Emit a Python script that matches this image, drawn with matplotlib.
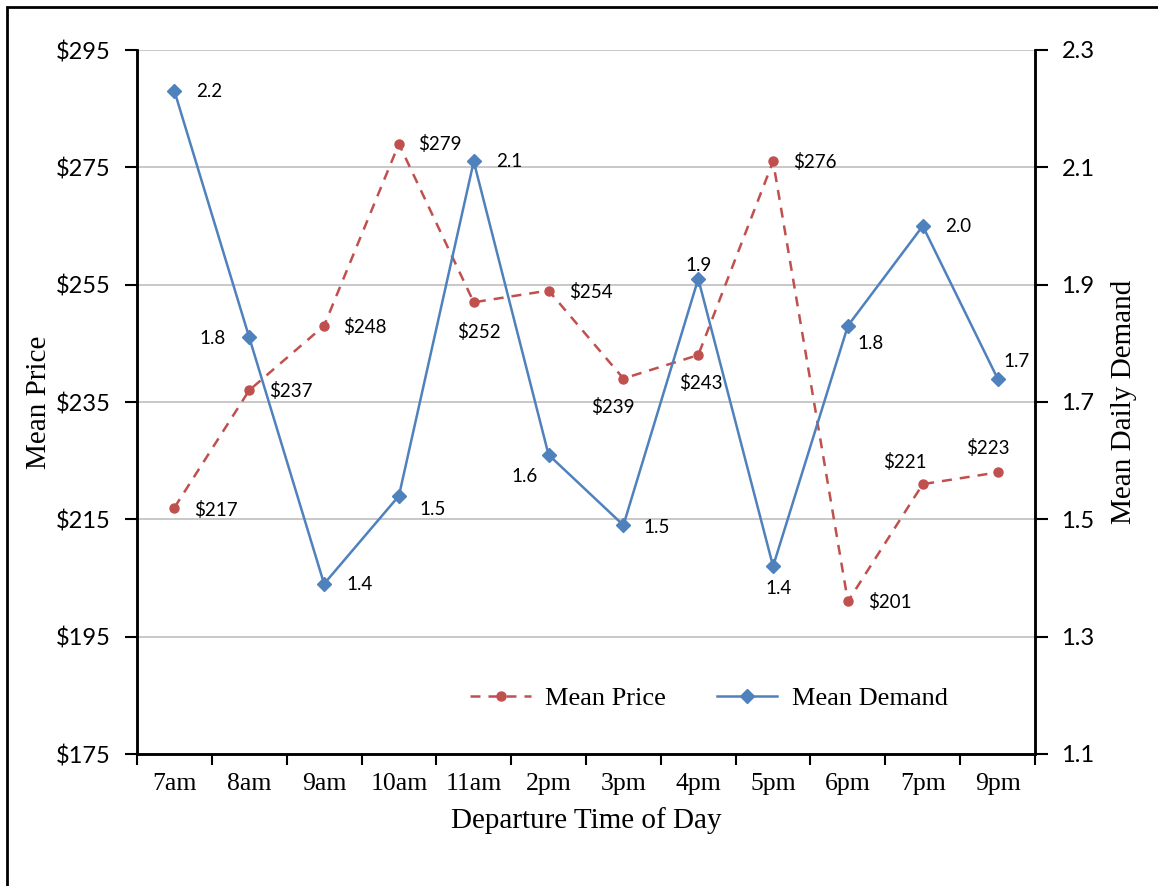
import matplotlib as mpl
import matplotlib.pyplot as plt
from matplotlib.patches import Rectangle

mpl.rcParams["font.family"] = ["Liberation Serif", "DejaVu Serif"]

# data
times = ["7am", "8am", "9am", "10am", "11am", "2pm", "3pm", "4pm", "5pm", "6pm", "7pm", "9pm"]
mean_price = [217, 237, 248, 279, 252, 254, 239, 243, 276, 201, 221, 223]
mean_demand = [2.23, 1.81, 1.39, 1.54, 2.11, 1.61, 1.49, 1.91, 1.42, 1.83, 2.00, 1.74]
price_ticks = [175, 195, 215, 235, 255, 275, 295]
demand_ticks = [1.1, 1.3, 1.5, 1.7, 1.9, 2.1, 2.3]

# label offsets (pixels) for the data labels
price_offsets = [(41, -2), (42, -1), (41, -1), (41, 0), (5, -30), (42, -1),
                 (-11, -28), (3, -28), (42, -1), (42, -1), (-18, 22), (-10, 24)]
demand_offsets = [(35, 0), (-37, -1), (35, -1), (34, -14), (35, 0), (-24, -22),
                  (33, -2), (0, 13), (5, -22), (23, -18), (35, 0), (19, 17)]

RED = "#C0504D"
BLUE = "#4F81BD"
SANS = ["Lato", "DejaVu Sans"]

fig = plt.figure(figsize=(11.58, 8.86), dpi=100)
ax = fig.add_axes([137 / 1158, 132 / 886, (1035 - 137) / 1158, (754 - 50) / 886])
ax2 = ax.twinx()

x = list(range(len(times)))

ax.plot(x, mean_price, "--", color=RED, linewidth=1.8, dashes=(4, 3.2),
        marker="o", markersize=6.5, label="Mean Price", zorder=3)
ax2.plot(x, mean_demand, "-", color=BLUE, linewidth=1.8,
         marker="D", markersize=7, label="Mean Demand", zorder=3)

for xi, v, off in zip(x, mean_price, price_offsets):
    ax.annotate(f"${v}", (xi, v), xytext=off, textcoords="offset pixels",
                ha="center", va="center", fontsize=13.5, family=SANS)
for xi, v, off in zip(x, mean_demand, demand_offsets):
    ax2.annotate(f"{v:.1f}", (xi, v), xytext=off, textcoords="offset pixels",
                 ha="center", va="center", fontsize=13.5, family=SANS)

ax.set_xlim(-0.5, len(times) - 0.5)
ax.set_ylim(175, 295)
ax2.set_ylim(1.1, 2.3)

ax.set_yticks(price_ticks)
ax.set_yticklabels([f"${t}" for t in price_ticks], family=SANS, fontsize=17)
ax2.set_yticks(demand_ticks)
ax2.set_yticklabels([f"{t:.1f}" for t in demand_ticks], family=SANS, fontsize=17)

ax.set_xticks(x)
ax.set_xticklabels(times, fontsize=18.5)
ax.set_xticks([i - 0.5 for i in range(len(times) + 1)], minor=True)
ax.tick_params(axis="x", which="major", length=0, pad=14)
ax.tick_params(axis="x", which="minor", length=8, width=1.5, direction="out")
ax.tick_params(axis="y", length=9, width=1.5, direction="out", pad=10)
ax2.tick_params(axis="y", length=9, width=1.5, direction="out", pad=10)

ax.grid(axis="y", color="#BFBFBF", linewidth=1.2)
ax.set_axisbelow(True)

for a in (ax, ax2):
    a.spines["top"].set_visible(False)
    for s in ("left", "right", "bottom"):
        a.spines[s].set_linewidth(1.8)

ax.set_xlabel("Departure Time of Day", fontsize=21, labelpad=8)
ax.set_ylabel("Mean Price", fontsize=21, labelpad=3)
ax2.set_ylabel("Mean Daily Demand", fontsize=21, labelpad=12)

h1, l1 = ax.get_legend_handles_labels()
h2, l2 = ax2.get_legend_handles_labels()
ax2.legend(h1 + h2, l1 + l2, loc="center", bbox_to_anchor=(709 / 1158, 1 - 698 / 886),
           bbox_transform=fig.transFigure, ncol=2, frameon=False, fontsize=19,
           handlelength=2.3, handletextpad=0.55, columnspacing=1.9)

# outer border like the pasted chart frame
fig.patches.append(Rectangle((7 / 1158, -0.1), 1.2, 1.1 - 7 / 886, transform=fig.transFigure,
                             fill=False, edgecolor="black", linewidth=2))

fig.savefig("out.png", dpi=100)
